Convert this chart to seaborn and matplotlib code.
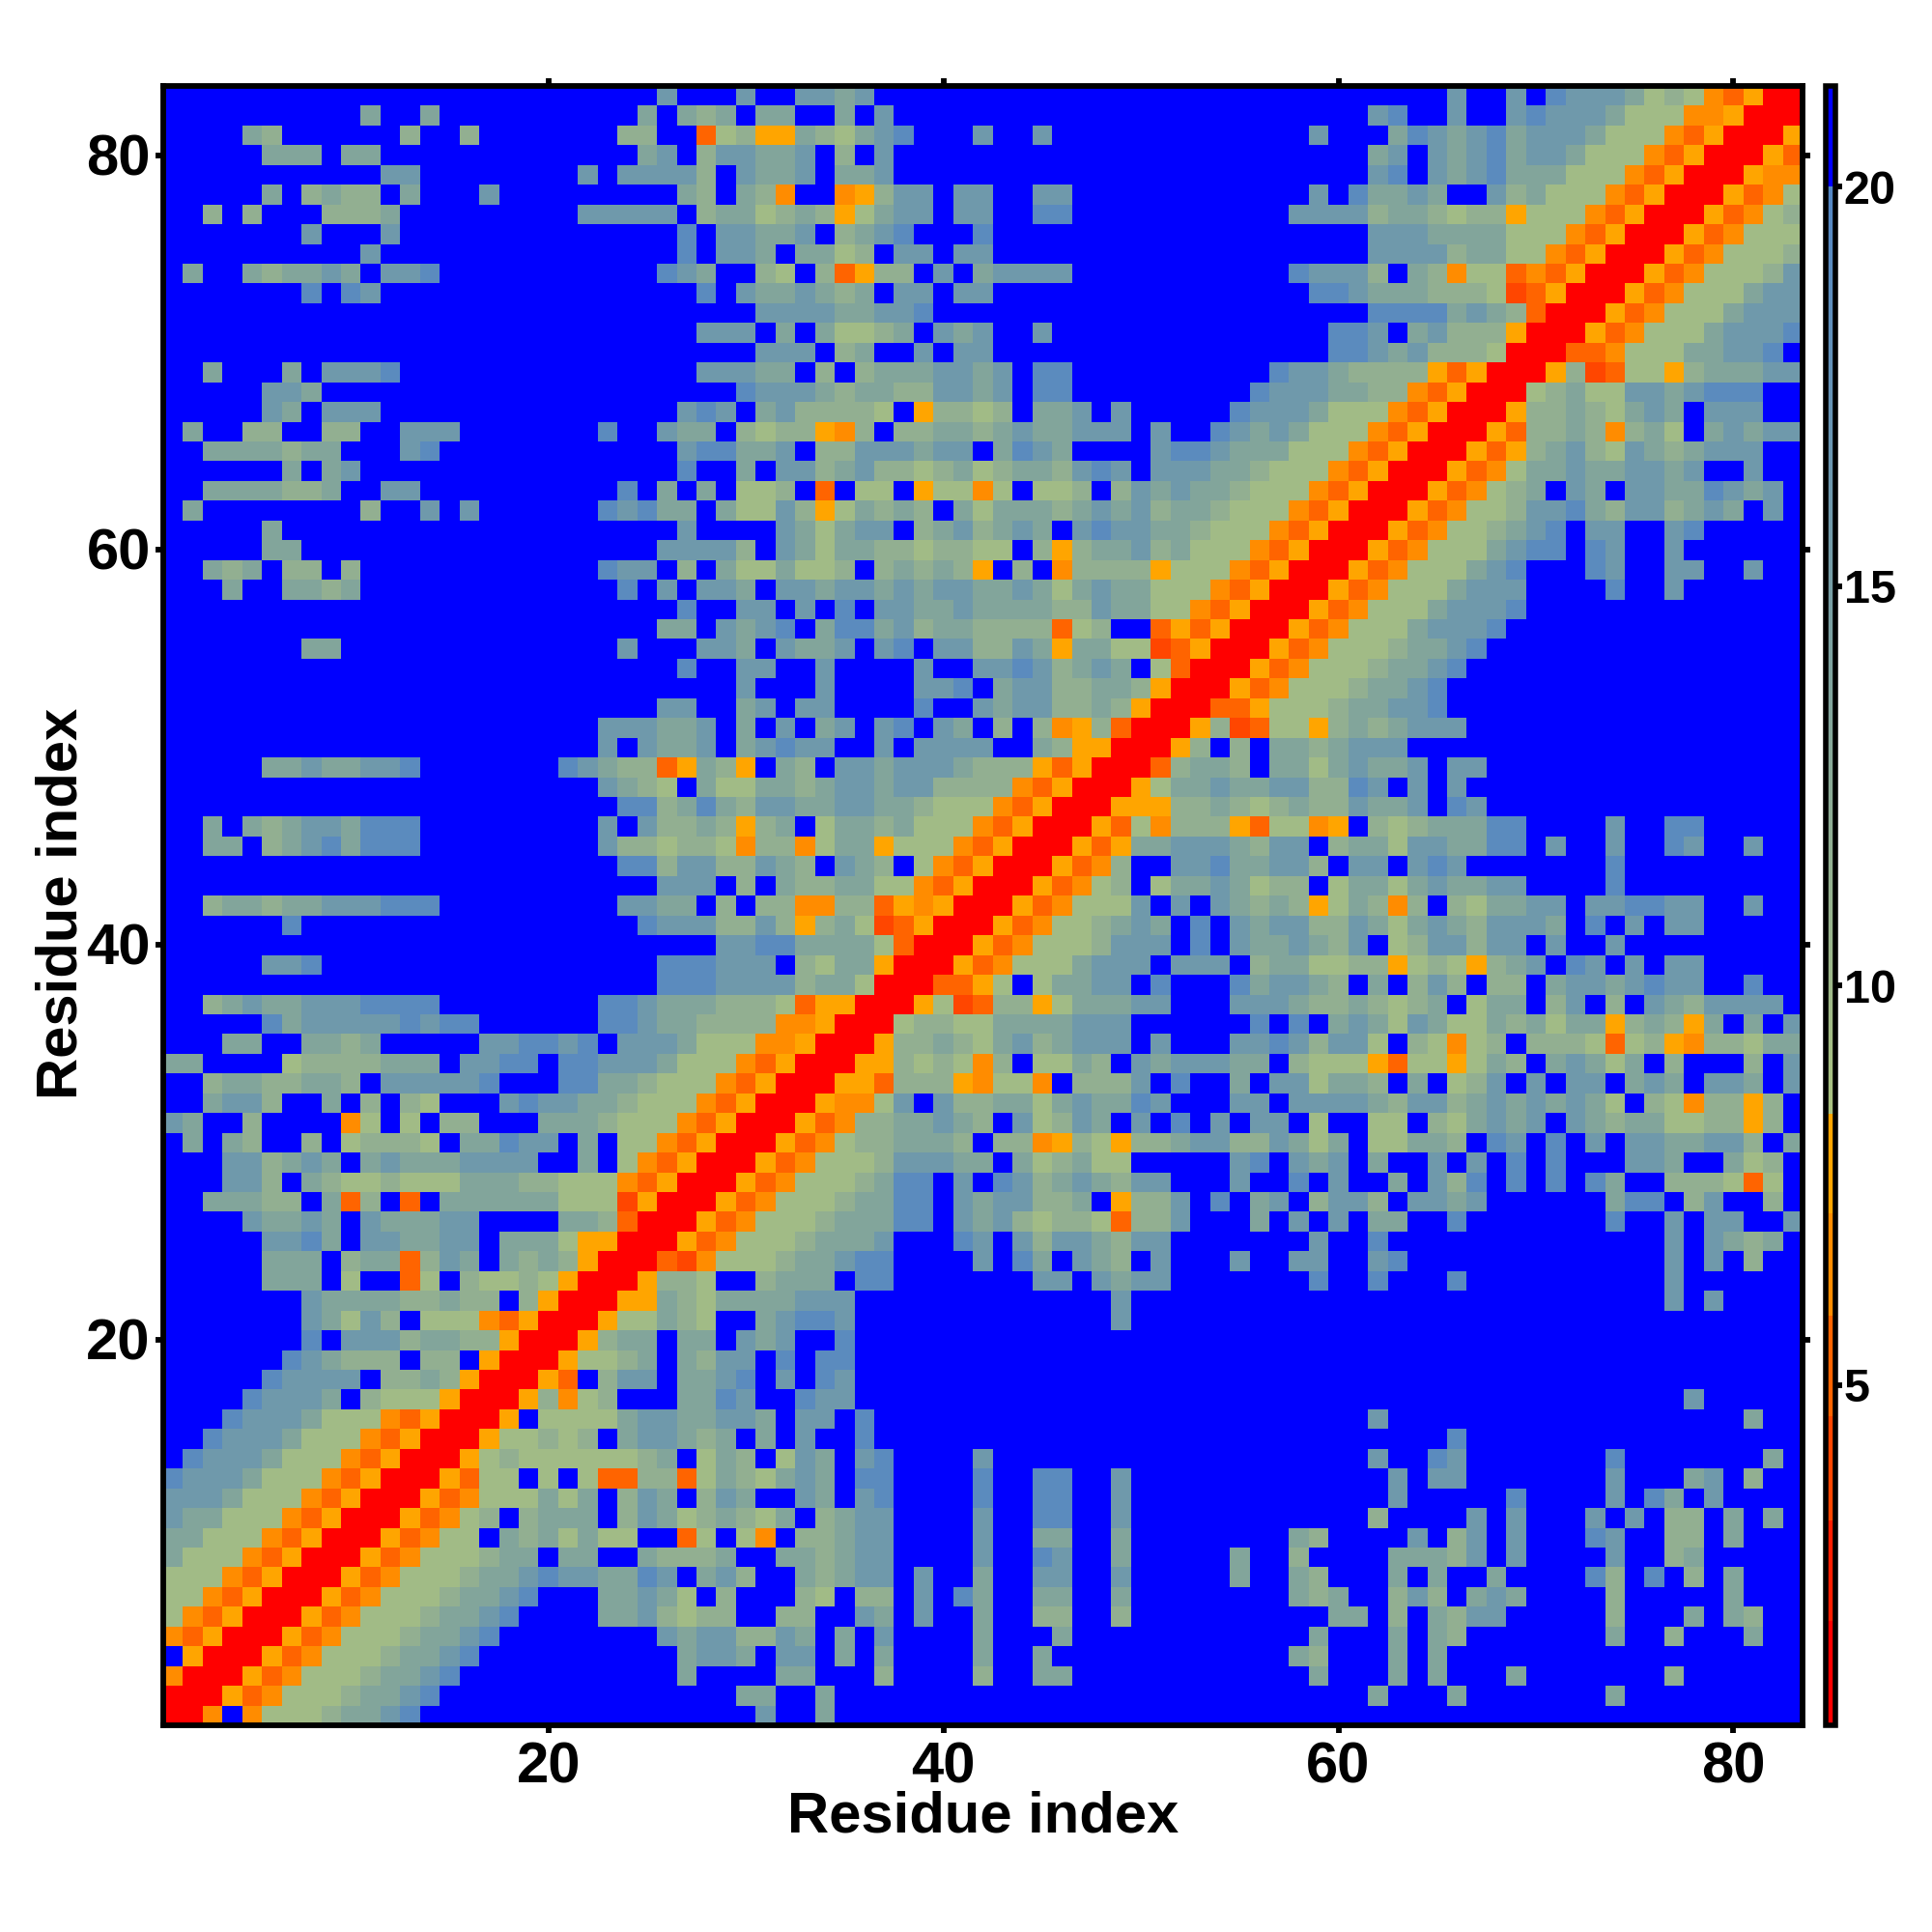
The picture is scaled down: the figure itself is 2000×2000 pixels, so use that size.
import numpy as np
import pandas as pd
import matplotlib
matplotlib.use("Agg")
import matplotlib.pyplot as plt
from matplotlib.colors import ListedColormap
from matplotlib.transforms import ScaledTranslation
import seaborn as sns

# Distance classes, rows from residue 83 (top) to residue 1.
# Columns 1-27
LEFT = [
"..... ..... ..... ..... ..... 4.",
"..... ..... 3..3. ..... ....3 .3",
"....3 2.... ..2.. 2.... ...22 ..",
"..... 333.3 3.... ..... ....3 4.",
"..... ..... .44.. ..... .4.44 44",
"..... 3.232 2.3.. .4... ..... .3",
"..2.2 ...22 23... ..... .4444 4.",
"..... ..4.. .4... ..... ..... .5",
"..... ..... 4.... ..... ..... .5",
".3..3 23343 .445. ..... ..... 54",
"..... ..5.5 4.... ..... ..... ..",
"",
"",
"",
"..3.. .3.44 45... ..... ..... ..",
"..... 443.. ..... ..... ..... ..",
"..... 43.44 4.... ..... ..... .4",
".3..2 2..22 ..444 ..... ..5.. 43",
"..333 3233. ..45. ..... ..... .4",
"..... .3.34 ..... ..... ..... .5",
"..333 3223. .44.. ..... ...5. 3.",
".3... ..... 2..4. 4.... ..545 33",
"..... 3.... ..... ..... ..... .4",
"..... 33... ..... ..... ..... 44",
"..323 .22.2 ..... ..... ..544 .2",
"...3. .3323 ..... ..... ...5. 4.",
"..... ..... ..... ..... ..... .5",
"..... ..... ..... ..... ..... 33",
"..... ..33. ..... ..... ...4. ..",
"..... ..... ..... ..... ..... .5",
"",
"..... ..... ..... ..... ..... 44",
"..... ..... ..... ..... ..444 33",
"..... ..... ..... ..... ..4.4 33",
"..... 33433 445.. ..... 54322 da",
"..... ..... ..... ..... ..432 1.",
"..... ..... ..... ..... ...55 23",
"..3.3 23443 555.. ..... ..4.4 22",
"..33. 23453 555.. ..... ..422 12",
"..... ..... ..... ..... ...55 24",
"..... ..... ..... ..... ..... 44",
"..233 23344 4555. ..... ...44 33",
"..... .5... ..... ..... ....5 44",
"",
"..... 445.. ..... ..... ..... 55",
"..... ..... ..... ..... ..... 55",
"..234 33444 5555. ..... ..554 33",
"..... 53444 44545 5.... ..554 33",
"...33 ..332 3.... .4455 45.44 43",
"33... .1222 2333. 4455. 55444 31",
"..233 22332 .4444 45... 55332 11",
"..344 2..3. 2.21. ..454 43321 11",
"43..2 ....o 1.1.2 2...3 33211 1o",
".3.32 ..2.1 2221. 33544 .3.11 od",
"...44 2343. 34333 4444. .3.1o da",
"...44 2.321 12111 33322 111od aR",
"..333 22.3d 2.d.3 33333 111ea RR",
"....4 3343. 43334 4.... 332dR RR",
"..... 4453. 44334 4.333 1aaRR Ra",
"..... 333.2 33d24 3.323 2aRRR de",
"..... 333.1 ..d1. 21121 aRRRa 22",
"..... ..433 33223 22.2a RRRaa 32",
"..... ..431 42.11 1odaR RRa11 32",
"..... ..5.4 44233 22aRR Ra233 .3",
"..... .5432 22.22 .aRRR a1123 .3",
"..... 54444 .2232 aRRRa d.244 .3",
"....5 4443. 2111a RRRa2 o12.. .3",
"...54 44311 1odaR RRa.1 11134 43",
"..544 43111 odaRR Ra112 12.34 43",
".5444 3111o daRRR a1211 11112 3.",
"54443 111od aRRRa d11.1 .1dd2 2d",
"44431 11oda RRRad o1113 13.24 3.",
"43311 1odaR RRado 12.23 33.24 31",
"33111 odaRR Rado1 1.323 1311. .d",
"3111o daRRR ado11 1233. 33..3 22",
"111od aRRRa do111 23345 44335 4.",
"11oda RRRad o1112 3345. ..334 31",
"1odaR RRado 11123 345.. ..334 21",
"odaRR Rado1 11233 45... ..... 43",
".aRRR ado11 12334 5.... ..... .3",
"oRRRa do111 23345 ..... ..... .3",
"RRRad o1112 3345. ..... ..... ..",
"RRo.o 11123 345.. ..... ..... ..",
]

# Columns 28-56
MID = [
"..4 ..443 4.... ..... ..... ..... .",
"23. 33..3 .4... ..... ..... ..... .",
"d12 aa321 345.. .4..4 ..... ..... .",
"244 334.2 .4... ..... ..... ..... .",
"2.4 334.3 34... ..... ..... ..... .",
"2.3 2o..o a244. 44..4 4.... ..... .",
"233 1232a 1344. 44..5 5.... ..... .",
".44 334.2 345.. .5... ..... ..... .",
".44 3.331 2.44. 44... ..... ..... .",
"3.. 21.2d a22.4 .3444 4.... ..... .",
"5.4 33432 3.44. 44... ..... ..... .",
"... 44443 3445. ..... ..... ..... .",
"444 .3.31 123.4 34..4 ..... ..... .",
"... 444.2 3..4. 44... ..... ..... .",
"444 33.2. 23334 434.5 5.... ..... .",
"..5 44432 33224 434.5 5.... ..... 5",
"54. 34222 21.a2 212.3 34.4. ....5 4",
"3.2 122ao 2.223 32343 3444. 4..54 3",
"553 34.22 44434 4.354 3.... 45543 3",
"..3 .4423 42212 31233 2454. 44433 2",
"3.1 12.d. 11.a1 1o1.1 12.24 34332 1",
".31 142a1 3232. 31333 23434 23321 1",
"... .4313 44.23 42343 .4544 33211 1",
"442 .4313 32212 211.2 a2334 23111 o",
".31 13112 .2323 2a.2. o2222 a111o d",
"443 .4434 43434 43343 13433 111od a",
"..4 4.4.5 .4433 43333 22433 11oda R",
".43 45.35 53423 32222 d12.. dadaR R",
"443 .4334 .45.4 42243 a3311 edaRR R",
"..4 4..4. ...4. .4454 2343. 1dRRR a",
"..4 ...4. ...44 5.344 22332 aRRRa d",
"..3 4.44. ...5. .4344 2232a RRRdd a",
"4.3 .4.34 .45.4 3.2.2 oa2dR RRa2e d",
"4.3 4544. .4.44 44..3 2aaRR Ra2.2 .",
"32a .32.4 43444 3222a daRRR d2332 .",
"311 33234 43442 222od aRRRa 13343 3",
"532 44334 43321 11oda RRRaa a2232 1",
"32a 23.13 32311 1odaR RRad1 o222a d",
"21o 22o13 3a111 odaRR Rada3 34443 2",
"422 432.4 32.1o daRRR ado2. .4453 3",
"4.2 .3223 311od aRRRa do12. 13343 1",
".2. 22oo2 2daoa RRRad o1114 .4.43 2",
"422 42a23 1edaR RRado 11234 3.5.4 3",
".44 55333 31dRR Rado1 11244 4.5.4 3",
"544 4.213 3aRRR ado11 13444 .444. 2",
"544 44233 1RRRd da1.1 3344. 5...5 3",
"322 21daa RRRa1 ed22a 13334 4...4 4",
"222 2ooaR RR122 11333 3444. ..... 5",
"111 ooaRR Ra223 21342 3444. 4...4 4",
"11o daRRR aa212 1o2.1 132.4 34443 3",
"1od aRRRa ad222 ao11o .2224 .5..3 .",
"oda RRRao o14.4 22331 34335 4...4 4",
"daR RRado 22334 32.41 243.4 .5.4. 4",
"aRR Rado1 22333 2.22o a21a2 23442 2",
"RRR ado11 12444 33.31 2311. ....4 5",
"RRa do111 2355. 4.542 34324 4...4 .",
"Rad o1112 3355. 43442 23.a2 24.5. 3",
"ado 11123 3355. 43421 221d2 24... 3",
"do1 11233 34... 54.42 44324 4.... .",
"o11 12334 55... .4.53 .432. 4...4 .",
"1.. 2333. 55... ....4 4.434 4.... .",
"133 33444 ..... ..... ...4. ..... .",
"1.. 34554 ..... ..... ...4. ..... .",
"3.4 34..5 ..... ..... ..... ..... .",
"244 .5.55 ..... ..... ..... ..... .",
"345 .4.54 ..... ..... ..... ..... .",
"354 ..544 ..... ..... ..... ..... .",
"344 3.44. 5.... ..... ..... ..... .",
"23. 3.4.. 5.... ..... ..... ..... .",
"132 .143. 45... .4... ..... ..... .",
"132 1343. 55... .5..5 5..4. ..... .",
"243 ..43. 45... .5..5 5..4. ..... .",
"232 13.23 44... .4..5 5..4. ..... .",
"1.1 o.223 44... .4..3 3..3. ..... .",
"23. .3323 44... .4..5 4..3. ....3 .",
"342 ..323 44.4. .3..4 4..4. ....3 .",
".2. ..21. 22.4. 53..3 3..3. ..... .",
"22. .22.. 43.4. .3..2 2..2. ..... .",
"442 243.3 .4... .3... 3.... ..... .",
"443 .44.3 .3... .3..3 ..... ..... .",
"... .33.. .2... .2..3 3.... ..... .",
"..3 3..3. ..... ..... ..... ..... .",
"... 4..3. ..... ..... ..... ..... .",
]

# Columns 57-83
RIGHT = [
".... ..... 4..4. 54443 121od aRR",
".... .45.. 4..45 44431 11ooa RRR",
"..4. ..354 34534 44311 1odaR RRa",
".... .34.4 34534 43111 odaRR Rad",
".... .45.4 34533 3111o daRRR aoo",
"..4. 53343 ..423 111od aRRRa do1",
".444 42332 122a1 11oda RRRad o12",
".... .4443 33311 1odaR RRado 111",
".... .4444 23311 odaRR Rado1 112",
".544 42.32 o11do daRRR ado11 124",
"..55 43332 221ed aRRRa do111 344",
".... .5555 3432d RRRad o1113 444",
"...5 54.34 222aR RRado 11134 445",
"...5 54342 221RR Rddo1 11334 45.",
"5443 2222a daRRR a2ed1 1a233 344",
"4443 322od aRRR1 23114 43455 5..",
"4431 11oda RRRa2 23213 43.44 4..",
"4311 1odaR RRad2 232o2 31.34 344",
"3111 odaRR Rada2 34214 32344 4..",
"111o daRRR ado13 34334 434.. 4..",
"11od aRRRa do123 .43.4 43354 34.",
"1oda RRRad o1124 45324 42343 .4.",
"odaR RRado 11234 5.44. .45.. ...",
"daRR Rado1 11345 5.54. .4... ...",
"aRRR ado11 1345. ..54. .44.. 4..",
"RRRa do111 3444. ...5. .4... ...",
"RRad o1113 4445. ..... ..... ...",
"Rado 11134 445.. ..... ..... ...",
"ado1 11233 45... ..... ..... ...",
"do11 12334 5.... ..... ..... ...",
"o111 23345 ..... ..... ..... ...",
"1112 33445 ..... ..... ..... ...",
"11a2 32344 4.... ..... ..... ...",
"3323 444.. ..... ..... ..... ...",
"3313 4334. 44... ..... ..... ...",
"4422 54.4. 4.... ..... ..... ...",
"2322 4334. 54... ..... ..... ...",
"11oa .2123 3355. ...4. .55.. ...",
"44.2 33144 3355. 4..4. .54.. 4..",
"442. 44.45 4.... ...5. ..... ...",
"22.1 33134 3344. ...5. ..... ...",
"32a1 32o2. 21334 4.445 544.. 4..",
"4422 43134 32444 3.5.4 .44.. ...",
"3432 4.124 4244. 4..4. ..... ...",
"3311 22a12 1a234 .54.4 .44.. ...",
"4432 .3.24 2.22. 34434 544.. 5..",
"4322 32123 .133. 24.2. 43244 44.",
".5.3 43143 11323 133a2 32a3. 3.4",
"5424 41.21 o12.2 221d1 2ao22 133",
".211 1ad11 a132. 34313 .2... 2.4",
"4413 32.3. 124.4 .44.3 43.44 3.4",
".444 43244 23434 3431. 21o22 a2.",
"4.1. .11.2 13434 .4323 31122 a2.",
"4313 .1133 2.54. 5.4.4 43344 2.3",
".434 .3..4 .4.5. 5...4 43..3 12.",
".5.4 ..3.4 25.5. 5.53. .2221 d1.",
"4.24 42.44 34... ...35 5.24. .2.",
".4.4 .33.. 5.... ...5. .4.44 ..4",
"..4. .5... ..... ..... .4.43 23.",
".44. .45.. ..... ..... .4.4. 2..",
"..5. .5... 5.... ..... .4... ...",
".... ..... ..... ..... .4.4. ...",
"",
"",
"",
"",
".... ..... ..... ..... ..4.. ...",
".... .4... ..... ..... ..... 3..",
".... ..... 5.... ..... ..... ...",
".... .4..5 4.... ...5. ..... .3.",
".... ..4.4 4.... ...4. ..34. 2..",
".... ..4.. ...5. ...4. 53.4. ...",
".... .2... .4.4. ..4.4 .22.3 .3.",
".32. ...4. 24.4. ..54. .22.3 ...",
".2.. ..333 24.4. ...4. .23.. ...",
".32. ..3.3 ..3.. ..52. 5.2.3 ...",
".323 ..242 .343. ...2. ....3 ...",
"...3 3.2.3 244.. ...2. ..3.3 2..",
"..3. ..3.3 2.... ...3. .2... 3..",
".32. ..3.3 ..... ..... ..... ...",
"..3. ..3.3 ...3. ..... .2... ...",
".... .3... 3.... ...3. ..... ...",
"",
]

CLASS_VALUES = {"R": 1.4, "e": 4.0, "d": 5.2, "o": 6.5, "a": 7.8,
                "1": 9.5, "2": 11.5, "3": 13.5, "4": 16.0, "5": 19.0, ".": 20.8}
RESIDUES = np.arange(1, 84)
TICKS = [20, 40, 60, 80]
CBAR_TICKS = [5, 10, 15, 20]
VMIN, VMAX = 0.74, 21.26

def row(i):
    l = LEFT[i].replace(" ", "").ljust(27, ".")[:27]
    m = MID[i].replace(" ", "").ljust(29, ".")[:29]
    r = RIGHT[i].replace(" ", "").ljust(27, ".")[:27]
    return [CLASS_VALUES[c] for c in l + m + r]

table = pd.DataFrame([row(i) for i in range(83)], index=RESIDUES[::-1], columns=RESIDUES)

# Colour scale: stepped reds/oranges, green-to-steel gradient, blue above 20
vals = np.linspace(VMIN, VMAX, 1024)
knots = [8.4, 11, 14, 17, 20]
rs = np.interp(vals, knots, [170, 150, 126, 104, 84])
gs = np.interp(vals, knots, [194, 178, 162, 148, 134])
bs = np.interp(vals, knots, [128, 142, 158, 178, 196])
cols = np.c_[rs, gs, bs] / 255
bands = [(0, 2.03, (255, 0, 0)), (2.03, 3.3, (255, 30, 0)), (3.3, 4.6, (255, 70, 0)),
         (4.6, 5.87, (255, 100, 0)), (5.87, 7.15, (255, 140, 0)), (7.15, 8.4, (255, 165, 0)),
         (20, 99, (0, 0, 255))]
for lo, hi, c in bands:
    cols[(vals >= lo) & (vals < hi)] = np.array(c) / 255
cmap = ListedColormap(cols)

sns.set_theme(style="white")
plt.rcParams["font.family"] = ["Liberation Sans", "DejaVu Sans"]
plt.rcParams["font.weight"] = "bold"

W = 2000.0
fig = plt.figure(figsize=(20, 20), dpi=100, facecolor="white")
ax = fig.add_axes([169 / W, 1 - 1786 / W, 1697 / W, 1697 / W])
cax = fig.add_axes([1889.5 / W, 1 - 1786 / W, 11 / W, 1697 / W])

sns.heatmap(table, ax=ax, cbar_ax=cax, cmap=cmap, vmin=VMIN, vmax=VMAX,
            xticklabels=False, yticklabels=False, linewidths=0, rasterized=False)

ax.set_xticks(np.array(TICKS) - 0.5)
ax.set_yticks(83.5 - np.array(TICKS))
ax.set_xticklabels([str(t) for t in TICKS])
ax.set_yticklabels([str(t) for t in TICKS], rotation=0, va="center")
ax.tick_params(axis="both", which="major", length=5.5, width=4.2, color="black",
               labelsize=43, top=True, right=True, bottom=True, left=True,
               direction="out", labelcolor="black")
ax.tick_params(axis="x", pad=6.5)
ax.tick_params(axis="y", pad=4)
for lab in ax.get_xticklabels() + ax.get_yticklabels():
    lab.set_fontweight("bold")
for lab in ax.get_yticklabels():
    lab.set_transform(lab.get_transform() + ScaledTranslation(0, -5 / 100, fig.dpi_scale_trans))
for s in ax.spines.values():
    s.set_visible(True)
    s.set_linewidth(4.2)
    s.set_color("black")

ax.set_xlabel("Residue index", fontsize=43, fontweight="bold", color="black")
ax.set_ylabel("Residue index", fontsize=43, fontweight="bold", color="black")
ax.xaxis.set_label_coords((1018 - 169) / 1697, -(1881 - 1786) / 1697, transform=ax.transAxes)
ax.xaxis.label.set_va("center")
ax.yaxis.set_label_coords(-(169 - 64) / 1697, (1786 - 935) / 1697, transform=ax.transAxes)
ax.yaxis.label.set_va("center")

cb = ax.collections[0].colorbar
cb.set_ticks(CBAR_TICKS)
cb.set_ticklabels([str(t) for t in CBAR_TICKS])
cb.outline.set_linewidth(4.0)
cb.outline.set_edgecolor("black")
cax.tick_params(axis="y", length=5, width=4.2, color="black", labelsize=35, pad=1,
                labelcolor="black", right=True, left=False)
for lab in cax.get_yticklabels():
    lab.set_fontweight("bold")

fig.savefig("out.png", dpi=100, facecolor="white")
